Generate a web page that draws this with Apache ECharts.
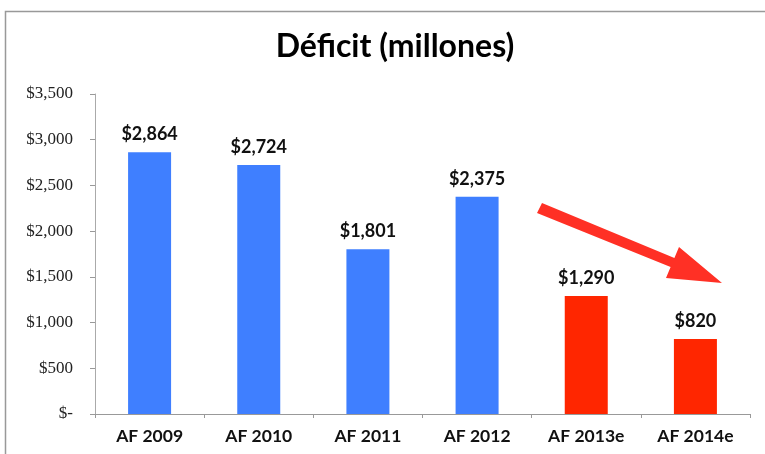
<!DOCTYPE html>
<html>
<head>
<meta charset="utf-8">
<script src="https://cdn.jsdelivr.net/npm/echarts@6/dist/echarts.min.js"></script>
<style>
  html, body { margin: 0; padding: 0; background: #fff; }
  #chart { width: 765px; height: 454px; }
</style>
</head>
<body>
<div id="chart"></div>
<script>
const categories = ['AF 2009', 'AF 2010', 'AF 2011', 'AF 2012', 'AF 2013e', 'AF 2014e'];
const deficit = [2864, 2724, 1801, 2375, 1290, 820];
const estimated = [false, false, false, false, true, true];
const yTicks = [0, 500, 1000, 1500, 2000, 2500, 3000, 3500];

const blue = '#3f7fff';
const red = '#ff2600';

const money = v => v === 0 ? '$-' : '$' + v.toLocaleString('en-US');

const chart = echarts.init(document.getElementById('chart'), null, { renderer: 'canvas' });

chart.setOption({
  animation: false,
  title: {
    text: 'Déficit (millones)',
    left: 390,
    top: 26,
    textAlign: 'center',
    textStyle: { fontFamily: 'Lato', fontWeight: 'bold', fontSize: 32, color: '#000' }
  },
  grid: { left: 95, right: 15, top: 94, bottom: 40 },
  xAxis: {
    type: 'category',
    data: categories,
    axisLine: { lineStyle: { color: '#999', width: 1 } },
    axisTick: { show: true, length: 4, lineStyle: { color: '#999' } },
    axisLabel: {
      color: '#111', fontFamily: 'Lato', fontWeight: 'bold', fontSize: 17.5, margin: 13
    }
  },
  yAxis: {
    type: 'value',
    min: yTicks[0],
    max: yTicks[yTicks.length - 1],
    interval: 500,
    axisLine: { show: true, lineStyle: { color: '#aaa', width: 1 } },
    axisTick: { show: true, length: 5, lineStyle: { color: '#999' } },
    splitLine: { show: false },
    axisLabel: {
      color: '#222', fontFamily: 'Liberation Serif', fontSize: 17, margin: 22,
      formatter: money
    }
  },
  series: [{
    type: 'bar',
    barWidth: 43,
    data: deficit.map((v, i) => ({ value: v, itemStyle: { color: estimated[i] ? red : blue } })),
    label: {
      show: true,
      position: 'top',
      distance: 9,
      color: '#111',
      fontFamily: 'Lato',
      fontWeight: 'bold',
      fontSize: 18,
      formatter: p => money(p.value)
    }
  }],
  graphic: [
    {
      type: 'rect',
      shape: { x: 5.5, y: 11.5, width: 780, height: 460 },
      style: { fill: 'none', stroke: '#999', lineWidth: 1.5 },
      silent: true
    },
    {
      type: 'polygon',
      shape: {
        points: [[537, 213], [542, 203], [674.4, 257.9], [679, 247], [722, 283], [666, 278], [670.6, 267.1]]
      },
      style: { fill: '#ff3025' },
      silent: true
    }
  ]
});
</script>
</body>
</html>
